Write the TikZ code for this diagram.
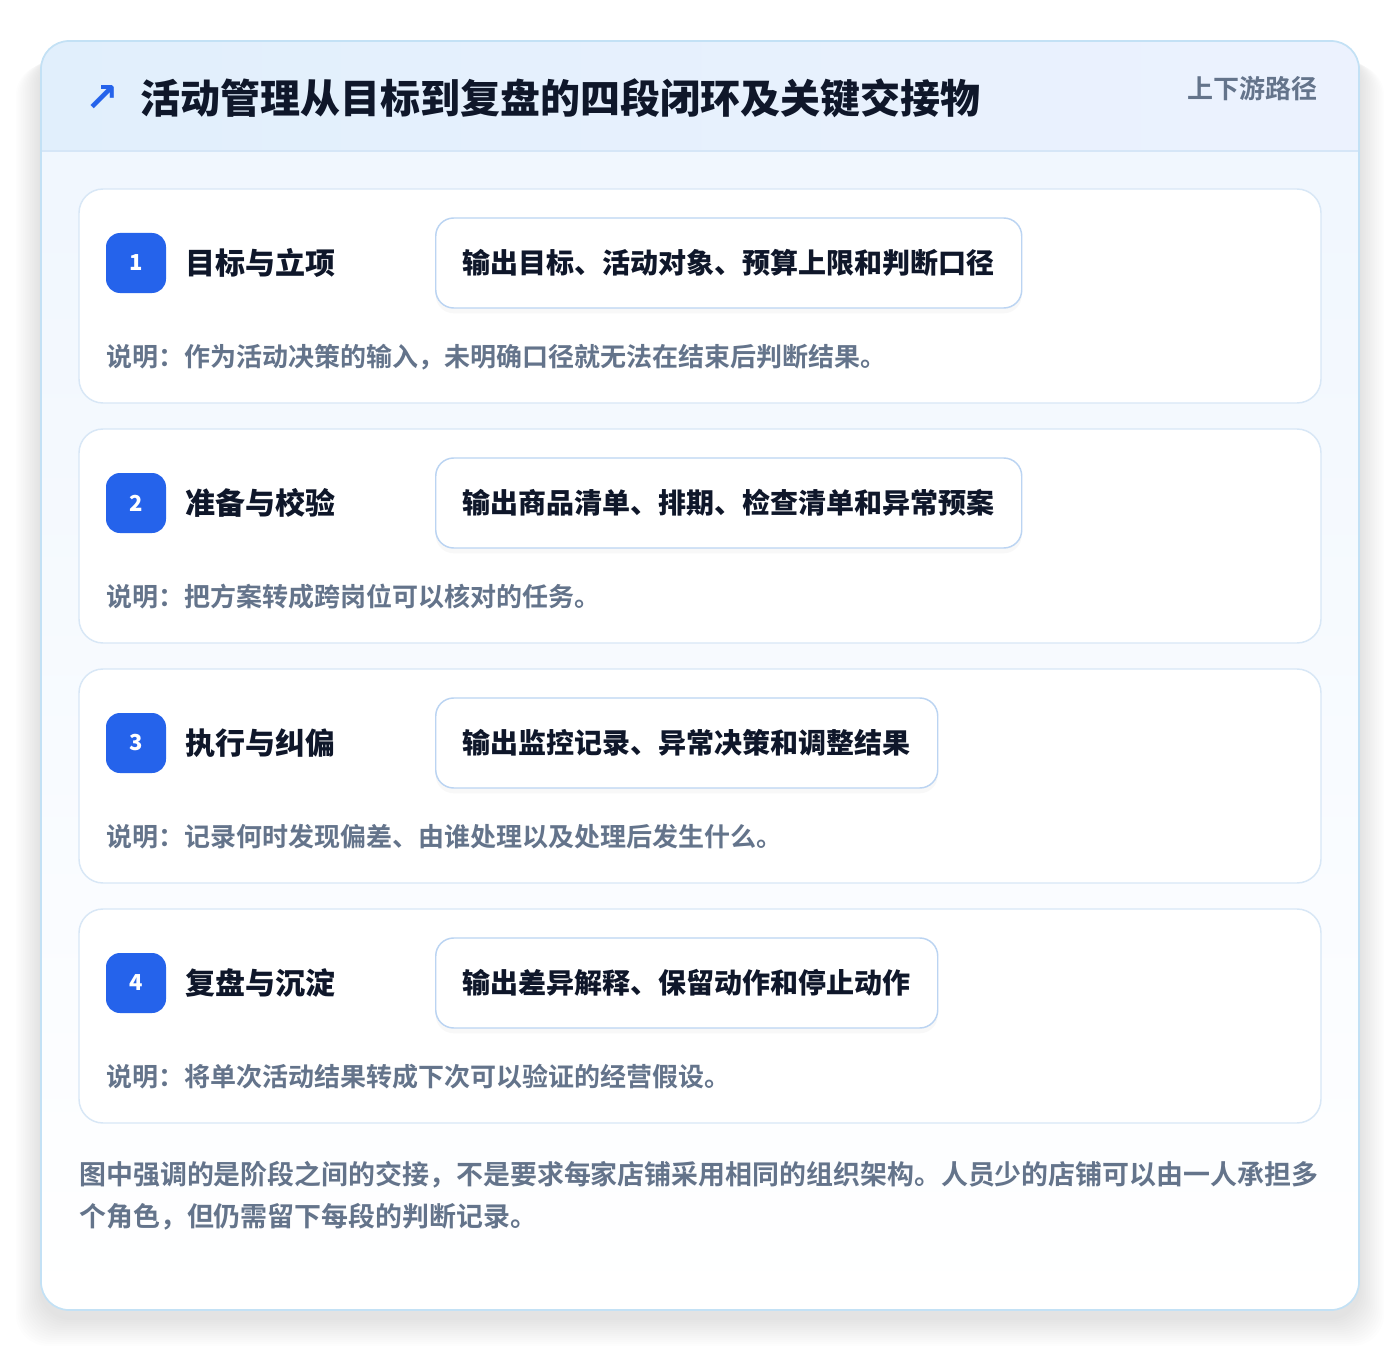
\documentclass[tikz,border=0pt]{standalone}
\usepackage{fontspec}
\setmainfont{Noto Sans CJK SC}[BoldFont={Noto Sans CJK SC Bold}]
\newfontfamily\blackfont{Noto Sans CJK SC Black}
\newfontfamily\symfont{DejaVu Sans}
\usetikzlibrary{shadows}

\definecolor{ink}{HTML}{0F172A}
\definecolor{muted}{HTML}{64748B}
\definecolor{accent}{HTML}{2563EB}
\definecolor{cardedge}{HTML}{C3E1F5}
\definecolor{stageedge}{HTML}{D8E7F6}
\definecolor{outedge}{HTML}{BBD4F2}
\definecolor{headl}{HTML}{E1EFFC}
\definecolor{headr}{HTML}{ECF2FE}
\definecolor{headline}{HTML}{D5E6F7}
\definecolor{cardtop}{HTML}{EFF6FE}

\begin{document}
\begin{tikzpicture}[x=0.75pt,y=-0.75pt,
    stagecard/.style={draw=stageedge,line width=1.1pt,rounded corners=18pt,fill=white},
    badge/.style={fill=accent,text=white,rounded corners=10.5pt,minimum size=45pt,inner sep=0pt,
      font=\blackfont\fontsize{16.5pt}{20pt}\selectfont},
    stagename/.style={anchor=west,inner sep=0pt,text=ink,font=\blackfont\fontsize{22.5pt}{27pt}\selectfont},
    outbox/.style={anchor=west,draw=outedge,line width=1.1pt,fill=white,rounded corners=13.5pt,
      minimum height=67.5pt,inner xsep=20.25pt,text=ink,font=\blackfont\fontsize{21pt}{25pt}\selectfont,
      drop shadow={opacity=0.05,shadow xshift=0pt,shadow yshift=-4pt}},
    note/.style={anchor=west,inner sep=0pt,text=muted,font=\fontsize{19.5pt}{31.5pt}\selectfont\bfseries}]
  \useasboundingbox[fill=white] (0,0) rectangle (1400,1352);
  % soft shadow under the card
  \foreach \k in {1,...,14}
    \fill[black,opacity=0.008,rounded corners=24pt] (41-1.8*\k,50+\k) rectangle (1359+1.8*\k,1318+2*\k);
  \shade[top color=cardtop,bottom color=white,rounded corners=21pt] (41,41) rectangle (1359,1310);
  \begin{scope}
    \clip[rounded corners=21pt] (41,41) rectangle (1359,1310);
    \shade[left color=headl,right color=headr] (41,41) rectangle (1359,151);
  \end{scope}
  \draw[headline,line width=1.1pt] (41,151) -- (1359,151);
  \draw[cardedge,line width=1.3pt,rounded corners=21pt] (41,41) rectangle (1359,1310);

  \node[text=accent,font=\symfont\bfseries\fontsize{30pt}{32pt}\selectfont] (icon) at (102,99) {↗};
  \node[anchor=west,inner sep=0pt,text=ink,font=\blackfont\fontsize{30pt}{36pt}\selectfont] (heading) at (140,98)
    {活动管理从目标到复盘的四段闭环及关键交接物};
  \node[anchor=east,inner sep=0pt,text=muted,font=\fontsize{19.5pt}{24pt}\selectfont\bfseries] (route) at (1318,89)
    {上下游路径};

  % four stages, 240px apart
  \foreach \n/\name/\out/\desc [count=\i from 0] in {
      1/目标与立项/输出目标、活动对象、预算上限和判断口径/说明：作为活动决策的输入，未明确口径就无法在结束后判断结果。,
      2/准备与校验/输出商品清单、排期、检查清单和异常预案/说明：把方案转成跨岗位可以核对的任务。,
      3/执行与纠偏/输出监控记录、异常决策和调整结果/说明：记录何时发现偏差、由谁处理以及处理后发生什么。,
      4/复盘与沉淀/输出差异解释、保留动作和停止动作/说明：将单次活动结果转成下次可以验证的经营假设。}{
    \pgfmathsetmacro\yc{263+240*\i}
    \draw[stagecard] (79,\yc-74) rectangle (1321,\yc+140);
    \node[badge] (badge\n) at (136,\yc) {\n};
    \node[stagename] (name\n) at (185,\yc) {\name};
    \node[outbox] (out\n) at (435,\yc) {\out};
    \node[note] (desc\n) at (106,\yc+94) {\desc};
  }

  \node[note,align=left,font=\fontsize{20.2pt}{31.5pt}\selectfont\bfseries] (footer) at (79,1196)
    {图中强调的是阶段之间的交接，不是要求每家店铺采用相同的组织架构。人员少的店铺可以由一人承担多\\
     个角色，但仍需留下每段的判断记录。};
\end{tikzpicture}
\end{document}
